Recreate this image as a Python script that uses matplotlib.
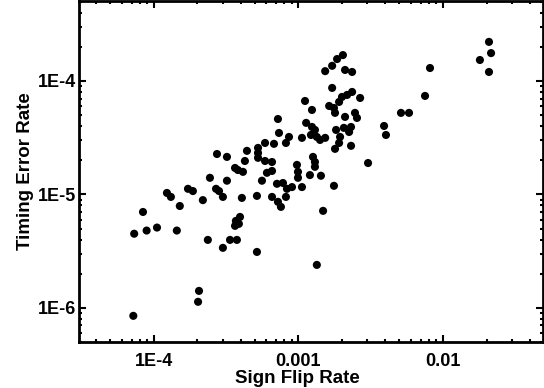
import matplotlib
matplotlib.use('Agg')
import matplotlib.pyplot as plt
from matplotlib.ticker import LogLocator, FixedLocator, FixedFormatter, NullFormatter

plt.rcParams['font.family'] = ['Liberation Sans', 'DejaVu Sans']
plt.rcParams['font.weight'] = 'bold'

# values
sign_flip = [
    7.2e-5, 7.3e-5, 8.4e-5, 8.9e-5, 1.05e-4, 1.44e-4, 1.51e-4, 1.23e-4, 1.31e-4, 1.72e-4,
    1.86e-4, 2.05e-4, 2.02e-4, 2.36e-4, 2.18e-4, 2.44e-4, 2.73e-4, 3.20e-4, 3.20e-4, 3.00e-4,
    3.00e-4, 2.69e-4, 2.82e-4, 3.36e-4, 3.75e-4, 3.64e-4, 3.87e-4, 3.69e-4, 3.94e-4, 4.06e-4,
    5.16e-4, 5.16e-4, 6.56e-4, 3.64e-4, 3.81e-4, 4.13e-4, 4.26e-4, 4.40e-4, 5.25e-4, 5.25e-4,
    5.25e-4, 5.87e-4, 6.77e-4, 8.19e-4, 7.21e-4, 7.33e-4, 5.87e-4, 6.56e-4, 6.05e-4, 6.56e-4,
    5.59e-4, 7.10e-4, 7.81e-4, 8.32e-4, 9.02e-4, 1.057e-3, 7.21e-4, 8.19e-4, 7.56e-4, 8.60e-4,
    1.11e-3, 1.24e-3, 1.13e-3, 1.057e-3, 1.24e-3, 1.30e-3, 1.22e-3, 1.34e-3, 1.41e-3, 1.53e-3,
    1.63e-3, 1.76e-3, 1.79e-3, 1.91e-3, 2.00e-3, 2.17e-3, 2.35e-3, 2.67e-3, 2.10e-3, 2.46e-3,
    2.54e-3, 2.31e-3, 2.24e-3, 2.06e-3, 1.82e-3, 1.94e-3, 1.91e-3, 1.79e-3, 2.31e-3, 1.26e-3,
    1.30e-3, 9.76e-4, 9.92e-4, 9.92e-4, 1.20e-3, 1.43e-3, 1.30e-3, 1.76e-3, 1.48e-3, 1.34e-3,
    1.71e-3, 1.53e-3, 1.71e-3, 1.85e-3, 2.03e-3, 2.10e-3, 2.35e-3, 3.03e-3, 3.91e-3, 4.03e-3,
    5.12e-3, 5.82e-3, 7.51e-3, 8.13e-3, 1.80e-2, 2.08e-2, 2.15e-2, 2.08e-2,
]
timing_err = [
    8.5e-7, 4.5e-6, 7.0e-6, 4.8e-6, 5.1e-6, 4.8e-6, 7.9e-6, 1.03e-5, 9.5e-6, 1.12e-5,
    1.07e-5, 1.41e-6, 1.13e-6, 3.97e-6, 8.9e-6, 1.40e-5, 2.27e-5, 2.14e-5, 1.32e-5, 3.38e-6,
    9.5e-6, 1.12e-5, 1.07e-5, 3.97e-6, 3.97e-6, 5.28e-6, 5.50e-6, 5.84e-6, 6.33e-6, 9.31e-6,
    3.11e-6, 9.7e-6, 9.5e-6, 1.71e-5, 1.64e-5, 1.58e-5, 1.97e-5, 2.42e-5, 2.57e-5, 2.32e-5,
    2.10e-5, 2.84e-5, 2.79e-5, 2.84e-5, 4.62e-5, 3.48e-5, 1.97e-5, 1.93e-5, 1.55e-5, 1.61e-5,
    1.32e-5, 1.24e-5, 1.26e-5, 1.12e-5, 1.16e-5, 1.16e-5, 8.6e-6, 9.5e-6, 7.76e-6, 3.21e-5,
    6.66e-5, 5.55e-5, 4.27e-5, 3.15e-5, 3.93e-5, 3.70e-5, 3.34e-5, 3.21e-5, 3.02e-5, 3.15e-5,
    6.02e-5, 5.78e-5, 5.23e-5, 6.53e-5, 7.23e-5, 7.53e-5, 8.00e-5, 7.08e-5, 4.82e-5, 5.23e-5,
    4.72e-5, 3.93e-5, 3.55e-5, 3.86e-5, 3.70e-5, 3.21e-5, 2.84e-5, 2.52e-5, 2.68e-5, 2.14e-5,
    1.93e-5, 1.82e-5, 1.58e-5, 1.40e-5, 1.48e-5, 1.46e-5, 1.75e-5, 1.19e-5, 7.16e-6, 2.39e-6,
    8.68e-5, 1.22e-4, 1.36e-4, 1.56e-4, 1.69e-4, 1.25e-4, 1.20e-4, 1.89e-5, 4.01e-5, 3.34e-5,
    5.23e-5, 5.23e-5, 7.38e-5, 1.30e-4, 1.53e-4, 2.21e-4, 1.76e-4, 1.20e-4,
]

x_ticks = [1e-4, 1e-3, 1e-2]
x_labels = ['1E-4', '0.001', '0.01']
y_ticks = [1e-6, 1e-5, 1e-4]
y_labels = ['1E-6', '1E-5', '1E-4']

fig = plt.figure(figsize=(5.44, 3.88), dpi=100)
ax = fig.add_axes([0.1452, 0.1186, 0.853, 0.8789])

ax.scatter(sign_flip, timing_err, s=34, c='black', edgecolors='none', zorder=3)

ax.set_xscale('log')
ax.set_yscale('log')
ax.set_xlim(3.03e-5, 0.0492)
ax.set_ylim(5.0e-7, 5.07e-4)

ax.xaxis.set_major_locator(FixedLocator(x_ticks))
ax.xaxis.set_major_formatter(FixedFormatter(x_labels))
ax.yaxis.set_major_locator(FixedLocator(y_ticks))
ax.yaxis.set_major_formatter(FixedFormatter(y_labels))
ax.xaxis.set_minor_locator(LogLocator(base=10, subs=range(2, 10)))
ax.yaxis.set_minor_locator(LogLocator(base=10, subs=range(2, 10)))
ax.xaxis.set_minor_formatter(NullFormatter())
ax.yaxis.set_minor_formatter(NullFormatter())

ax.tick_params(which='both', direction='in', top=True, right=True, width=1.5)
ax.tick_params(which='major', length=5, labelsize=13)
ax.tick_params(which='minor', length=2.5)
ax.tick_params(axis='x', which='major', pad=8)
ax.tick_params(axis='y', which='major', pad=2)
for lab in ax.get_xticklabels() + ax.get_yticklabels():
    lab.set_fontweight('bold')
for sp in ax.spines.values():
    sp.set_linewidth(2)

ax.set_xlabel('Sign Flip Rate', fontsize=13.5, fontweight='bold', labelpad=0)
ax.xaxis.label.set_x(0.47)
ax.set_ylabel('Timing Error Rate', fontsize=13.5, fontweight='bold', labelpad=3)

fig.savefig('out.png', dpi=100)
